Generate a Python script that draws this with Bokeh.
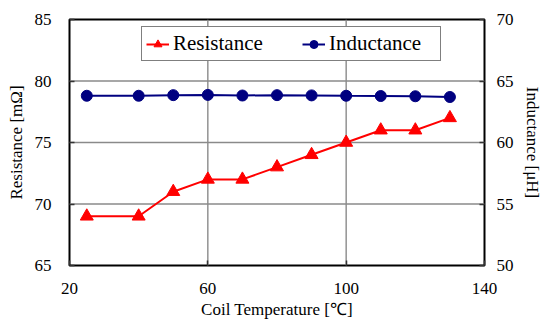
from bokeh.plotting import figure
from bokeh.models import Range1d, LinearAxis, FixedTicker, Legend, LegendItem
from bokeh.embed import file_html
from bokeh.resources import INLINE

temperature = [25, 40, 50, 60, 70, 80, 90, 100, 110, 120, 130]
resistance = [69, 69, 71, 72, 72, 73, 74, 75, 76, 76, 77]
inductance = [63.8, 63.8, 63.85, 63.87, 63.82, 63.85, 63.83, 63.8, 63.78, 63.76, 63.7]
x_ticks = [20, 60, 100, 140]
left_ticks = [65, 70, 75, 80, 85]
right_ticks = [50, 55, 60, 65, 70]

FONT = "Liberation Serif"

x_range = Range1d(x_ticks[0], x_ticks[-1])
y_range = Range1d(left_ticks[0], left_ticks[-1])

p = figure(width=544, height=322, output_backend="svg", toolbar_location=None,
           x_range=x_range, y_range=y_range,
           min_border_left=69, min_border_right=54, min_border_top=19, min_border_bottom=57)
p.extra_y_ranges = {"ind": Range1d(right_ticks[0], right_ticks[-1])}

p.outline_line_color = "black"
p.outline_line_width = 2
p.background_fill_color = "white"
p.border_fill_color = "white"

def style_axis(ax):
    ax.major_label_text_font = FONT
    ax.major_label_text_font_size = "17px"
    ax.major_label_text_color = "black"
    ax.axis_label_text_font = FONT
    ax.axis_label_text_font_size = "17px"
    ax.axis_label_text_font_style = "normal"
    ax.axis_label_text_color = "black"
    ax.axis_line_color = None
    ax.major_tick_in = 5
    ax.major_tick_out = 0
    ax.major_tick_line_color = "#333333"
    ax.major_tick_line_width = 1.5
    ax.minor_tick_line_color = None

xax = p.xaxis[0]
yax = p.yaxis[0]
xax.ticker = FixedTicker(ticks=x_ticks)
yax.ticker = FixedTicker(ticks=left_ticks)
xax.axis_label = "Coil Temperature [℃]"
yax.axis_label = "Resistance [mΩ]"
style_axis(xax)
style_axis(yax)
xax.major_label_standoff = 17
xax.axis_label_standoff = 3
yax.major_label_standoff = 18
yax.axis_label_standoff = 6

right = LinearAxis(y_range_name="ind", ticker=FixedTicker(ticks=right_ticks),
                   axis_label="Inductance [μH]")
style_axis(right)
right.major_label_standoff = 12
right.axis_label_standoff = 6
p.add_layout(right, "right")

p.xgrid.visible = False
p.ygrid.visible = False

# gridlines drawn as glyphs, beneath the data series
vx = x_ticks[1:-1]
p.segment(x0=vx, x1=vx, y0=[y_range.start] * len(vx), y1=[y_range.end] * len(vx),
          line_color="#8a8a8a", line_width=1.4)
hy = left_ticks[1:-1]
p.segment(x0=[x_range.start] * len(hy), x1=[x_range.end] * len(hy), y0=hy, y1=hy,
          line_color="#8a8a8a", line_width=1.4)

r_line = p.line(temperature, resistance, line_color="#FF0000", line_width=2)
r_pts = p.scatter(temperature, resistance, marker="triangle", size=13,
                  fill_color="#FF0000", line_color="#FF0000")
i_line = p.line(temperature, inductance, line_color="#000080", line_width=2, y_range_name="ind")
i_pts = p.scatter(temperature, inductance, marker="circle", size=11,
                  fill_color="#000080", line_color="#000080", y_range_name="ind")

legend = Legend(items=[LegendItem(label="Resistance", renderers=[r_line, r_pts]),
                       LegendItem(label="Inductance", renderers=[i_line, i_pts])],
                orientation="horizontal", location=(72, 204))
legend.label_text_font = FONT
legend.label_text_font_size = "21px"
legend.label_text_color = "black"
legend.border_line_color = "black"
legend.border_line_width = 1
legend.background_fill_color = "white"
legend.background_fill_alpha = 1
legend.glyph_width = 23
legend.glyph_height = 20
legend.padding = 4
legend.label_width = 107
legend.spacing = 22
legend.margin = 0
legend.label_standoff = 4
p.add_layout(legend, "center")

open("out.html", "w").write(file_html(p, INLINE))
